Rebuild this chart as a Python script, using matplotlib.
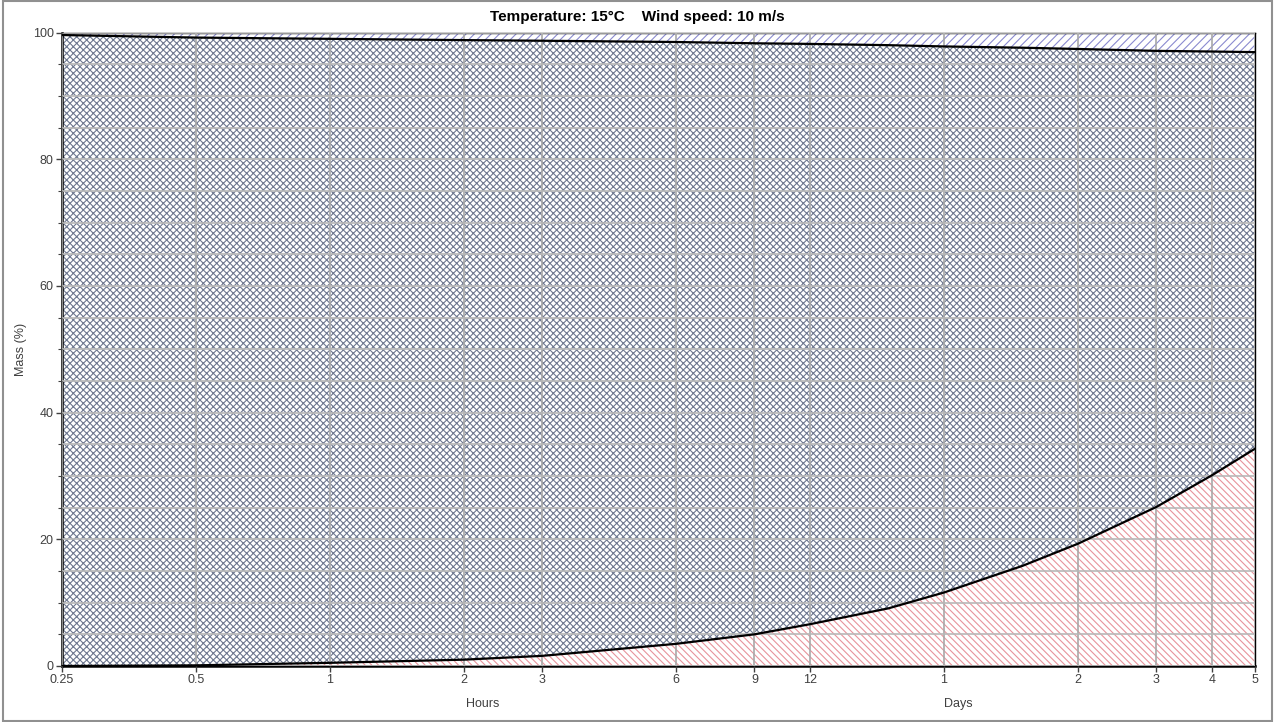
import matplotlib
matplotlib.use("Agg")
import matplotlib.pyplot as plt
from matplotlib.ticker import FixedLocator, MultipleLocator, NullLocator

plt.rcParams['font.family'] = ['Liberation Sans', 'DejaVu Sans']
plt.rcParams['hatch.linewidth'] = 0.8

# tiempo en horas
horas = [0.25, 0.5, 0.7, 1, 2, 3, 6, 9, 12, 18, 24, 36, 48, 72, 96, 120]
# curva inferior (%)
inferior = [0.0, 0.1, 0.3, 0.5, 1.0, 1.6, 3.5, 5.0, 6.6, 9.1, 11.6, 15.8, 19.3, 25.1, 30.1, 34.3]
# curva superior (%)
superior = [99.6, 99.2, 99.1, 99.0, 98.8, 98.7, 98.5, 98.3, 98.2, 98.0, 97.8, 97.6, 97.4, 97.1, 97.0, 96.9]

ticks_x = [0.25, 0.5, 1, 2, 3, 6, 9, 12, 24, 48, 72, 96, 120]
etiquetas_x = ['0.25', '0.5', '1', '2', '3', '6', '9', '12', '1', '2', '3', '4', '5']

fig = plt.figure(figsize=(12.75, 7.22), dpi=100)
ax = fig.add_axes([62 / 1275, 1 - 666 / 722, (1255 - 62) / 1275, (666 - 32.5) / 722])

ax.fill_between(horas, 0, inferior, facecolor='white', edgecolor='#e8949c',
                hatch='\\' * 5, linewidth=0, zorder=1)
ax.fill_between(horas, inferior, superior, facecolor='white', edgecolor='#6e7890',
                hatch='x' * 5, linewidth=0, zorder=1)
ax.fill_between(horas, superior, 100, facecolor='white', edgecolor='#8a8ad0',
                hatch='/' * 4, linewidth=0, zorder=1)

ax.plot(horas, inferior, color='black', linewidth=1.6, zorder=4)
ax.plot(horas, superior, color='black', linewidth=1.6, zorder=4)

ax.set_xscale('log')
ax.set_xlim(0.25, 120)
ax.set_ylim(0, 100)
ax.xaxis.set_major_locator(FixedLocator(ticks_x))
ax.xaxis.set_minor_locator(NullLocator())
ax.set_xticklabels(etiquetas_x)
ax.yaxis.set_major_locator(MultipleLocator(20))
ax.yaxis.set_minor_locator(MultipleLocator(5))

ax.grid(True, which='major', axis='x', color='#a8a8a8', linewidth=1.2, zorder=2)
ax.grid(True, which='both', axis='y', color='#b8b8b8', linewidth=1.2, zorder=2)
ax.set_axisbelow(False)

ax.tick_params(axis='both', which='major', labelsize=9, labelcolor='#404040',
               length=4, width=1, color='#404040', pad=2)
ax.tick_params(axis='y', which='minor', length=3, width=0.8, color='#404040')
for lado in ['left', 'bottom']:
    ax.spines[lado].set_linewidth(1.8)
for lado in ['right', 'top']:
    ax.spines[lado].set_linewidth(1.0)

ax.set_ylabel('Mass (%)', fontsize=9, color='#404040', labelpad=4)
ax.text(0.353, -0.06, 'Hours', transform=ax.transAxes, ha='center', va='center',
        fontsize=9, color='#404040')
ax.text(0.751, -0.06, 'Days', transform=ax.transAxes, ha='center', va='center',
        fontsize=9, color='#404040')

fig.text(0.5, 1 - 17 / 722, 'Temperature: 15\u00b0C    Wind speed: 10 m/s',
         ha='center', va='center', fontsize=11, fontweight='bold')

# marco de la figura
fig.patches.append(plt.Rectangle((0.002, 0.002), 0.996, 0.996, transform=fig.transFigure,
                                 fill=False, edgecolor='#909090', linewidth=1.5))

fig.savefig('out.png', dpi=100)
